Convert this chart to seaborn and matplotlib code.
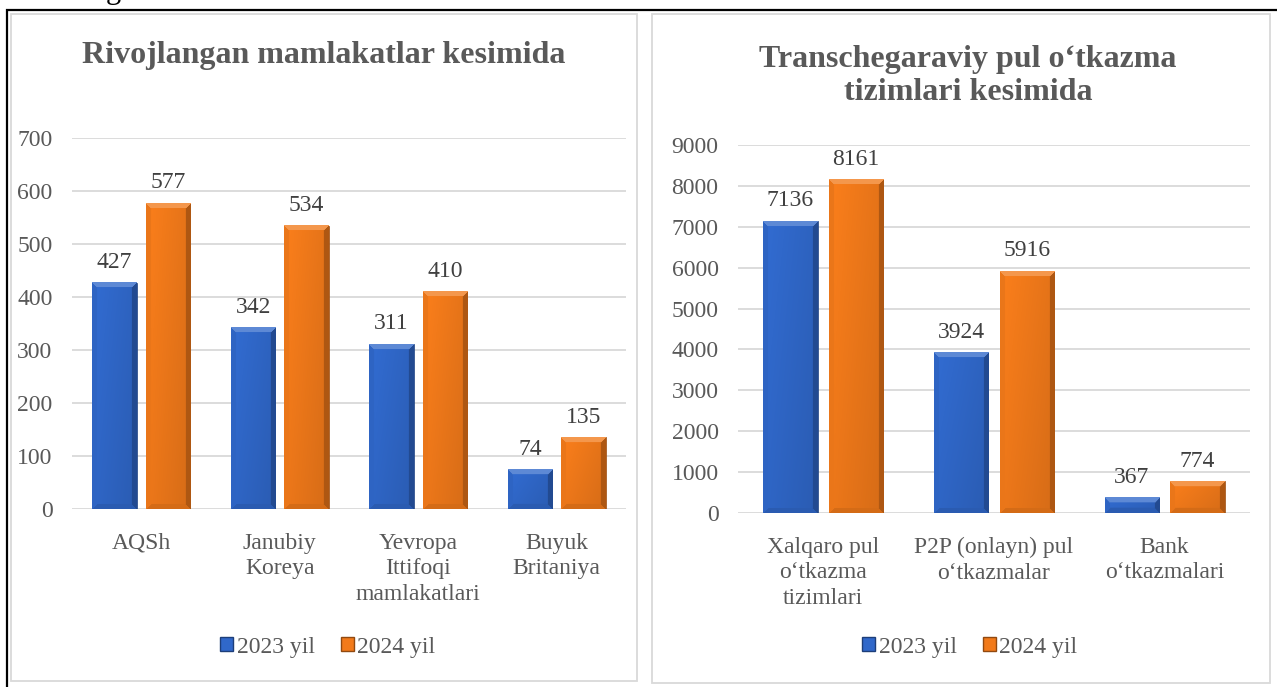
import numpy as np
import pandas as pd
import matplotlib
matplotlib.use('Agg')
import matplotlib.pyplot as plt
import matplotlib.patches as mpatches
import seaborn as sns

sns.set_theme(style='white')
plt.rcParams['font.family'] = ['Liberation Serif', 'DejaVu Serif']

# ---- data ----
years = ['2023 yil', '2024 yil']

left_title = 'Rivojlangan mamlakatlar kesimida'
left_cats = ['AQSh', 'Janubiy\nKoreya', 'Yevropa\nIttifoqi\nmamlakatlari', 'Buyuk\nBritaniya']
left_2023 = [427, 342, 311, 74]
left_2024 = [577, 534, 410, 135]
left_ticks = [0, 100, 200, 300, 400, 500, 600, 700]

right_title = 'Transchegaraviy pul o\u2018tkazma\ntizimlari kesimida'
right_cats = ['Xalqaro pul\no\u2018tkazma\ntizimlari', 'P2P (onlayn) pul\no\u2018tkazmalar',
              'Bank\no\u2018tkazmalari']
right_2023 = [7136, 3924, 367]
right_2024 = [8161, 5916, 774]
right_ticks = [0, 1000, 2000, 3000, 4000, 5000, 6000, 7000, 8000, 9000]

blue = '#3068ca'
orange = '#f27a1a'
txt = '#595959'
W, H = 1277, 687


def shade(c, f):
    c = np.array(matplotlib.colors.to_rgb(c))
    if f >= 1:
        return c + (1 - c) * (f - 1)
    return c * f


def bevel_img(color, wpx, hpx, b=5):
    wpx, hpx = max(int(wpx), 2), max(int(hpx), 2)
    cols = np.arange(wpx)[None, :].repeat(hpx, 0)
    rows = np.arange(hpx)[:, None].repeat(wpx, 1)
    dl, dr = cols, wpx - 1 - cols
    dt, db = rows, hpx - 1 - rows
    base = np.array(matplotlib.colors.to_rgb(color))
    # soft gradient inside, lighter top-left
    g = 1.04 - 0.10 * (cols / wpx) - 0.06 * (rows / hpx)
    img = np.clip(base[None, None, :] * g[..., None], 0, 1)
    d = np.stack([dt, dl, dr, db])
    k = d.argmin(0)
    m = d.min(0) < b
    facs = [1.22, 0.97, 0.72, 0.88]
    for i, f in enumerate(facs):
        sel = m & (k == i)
        img[sel] = shade(color, f)
    return img


def draw_panel(ax, cats, v1, v2, ticks, ymax):
    df = pd.DataFrame({'cat': cats * 2, 'val': v1 + v2,
                       'year': [years[0]] * len(cats) + [years[1]] * len(cats)})
    sns.barplot(data=df, x='cat', y='val', hue='year', palette=[blue, orange],
                width=0.77, gap=0.17, ax=ax, legend=False, saturation=1, zorder=2)
    ax.set_ylim(0, ymax)
    ax.set_xlim(-0.5, len(cats) - 0.5)
    ax.set_yticks(ticks)
    ax.yaxis.grid(True, color='#d9d9d9', linewidth=1.3, zorder=0)
    ax.set_axisbelow(True)
    for s in ax.spines.values():
        s.set_visible(False)
    ax.set_xlabel('')
    ax.set_ylabel('')
    ax.tick_params(axis='y', length=0, pad=14, labelsize=17, labelcolor=txt)
    ax.tick_params(axis='x', length=0, pad=17, labelsize=17, labelcolor=txt)
    for lab in ax.get_xticklabels():
        lab.set_linespacing(1.3)
    # bevelled bars
    for cont, col in zip(ax.containers, [blue, orange]):
        for p in cont:
            x, w, h = p.get_x(), p.get_width(), p.get_height()
            (x0, y0), (x1, y1) = ax.transData.transform([(x, 0), (x + w, h)])
            img = bevel_img(col, x1 - x0, y1 - y0)
            ax.imshow(img, extent=[x, x + w, 0, h], aspect='auto', zorder=3,
                      interpolation='bilinear')
            p.set_edgecolor(shade(col, 0.6))
            p.set_linewidth(0.5)
        ax.bar_label(cont, padding=7, fontsize=17, color='#404040')
    ax.set_ylim(0, ymax)
    ax.set_xlim(-0.5, len(cats) - 0.5)


fig = plt.figure(figsize=(W / 100, H / 100), dpi=100)

ax1 = fig.add_axes([72 / W, 1 - 509 / H, (626 - 72) / W, (509 - 138) / H])
ax2 = fig.add_axes([738 / W, 1 - 513 / H, (1250 - 738) / W, (513 - 145) / H])

draw_panel(ax1, left_cats, left_2023, left_2024, left_ticks, 700)
draw_panel(ax2, right_cats, right_2023, right_2024, right_ticks, 9000)

# titles
fig.text(324 / W, 1 - 63 / H, left_title, ha='center', va='baseline',
         fontsize=23, fontweight='bold', color=txt)
fig.text(968 / W, 1 - 100 / H, right_title, ha='center', va='baseline',
         fontsize=23, fontweight='bold', color=txt, linespacing=1.17)

# legends
handles = [mpatches.Patch(facecolor=blue, edgecolor=shade(blue, 0.6), label=years[0]),
           mpatches.Patch(facecolor=orange, edgecolor=shade(orange, 0.6), label=years[1])]
for cx in (328, 970):
    fig.legend(handles=handles, loc='center', bbox_to_anchor=(cx / W, 1 - 647 / H),
               ncol=2, frameon=False, fontsize=17, labelcolor=txt,
               handlelength=0.55, handleheight=0.55, handletextpad=0.15,
               columnspacing=1.1, borderpad=0)

# frames
def frame(x0, y0, x1, y1, color, lw):
    fig.add_artist(mpatches.Rectangle((x0 / W, 1 - y1 / H), (x1 - x0) / W, (y1 - y0) / H,
                                      transform=fig.transFigure, fill=False,
                                      edgecolor=color, linewidth=lw))

frame(7, 10, 1290, 700, 'black', 1.6)
frame(11, 14, 637, 681, '#d9d9d9', 1.3)
frame(652, 14, 1270, 683, '#d9d9d9', 1.3)

# descender of a letter from the line above, cut by the page edge as in the source
fig.text(113 / W, 1 + 2 / H, 'g', ha='center', va='baseline', fontsize=22, color='black')

fig.savefig('out.png', dpi=100)
